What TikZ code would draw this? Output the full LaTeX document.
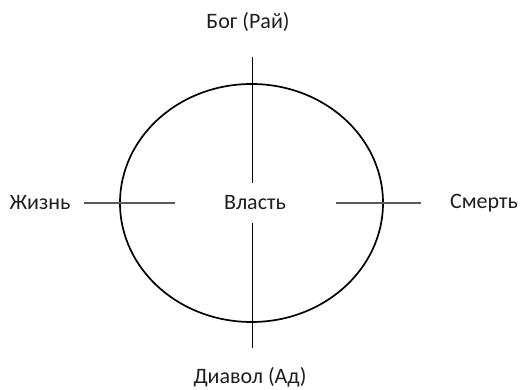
\documentclass[tikz,border=0pt]{standalone}
\usepackage{fontspec}
\setmainfont{Carlito}
\usepackage{tikz}
\usetikzlibrary{positioning}
\definecolor{axisgray}{RGB}{90, 90, 90}
\definecolor{labelink}{RGB}{30, 30, 30}

\begin{document}
\begin{tikzpicture}[x=1pt, y=1pt,
  lbl/.style={inner sep=0pt, text=labelink, font=\fontsize{22}{26}\selectfont},
  vline/.style={draw=black, line width=0.9pt},
  hline/.style={draw=axisgray, line width=1.2pt},
  orbit/.style={draw=black, line width=1.7pt}
]
  \useasboundingbox (0,0) rectangle (521,390);
  \node[lbl] (power) at (255, 187) {Власть};
  \node[lbl] (god)   at (248, 368) {Бог (Рай)};
  \node[lbl] (devil) at (250, 13)  {Диавол (Ад)};
  \node[lbl] (life)  at (40, 187)  {Жизнь};
  \node[lbl] (death) at (484, 187) {Смерть};
  \draw[orbit] (251.5, 187) ellipse (131.5pt and 119pt);
  \coordinate (vtop) at (252, 333);
  \coordinate (vtopin) at (252, 207);
  \coordinate (vbotin) at (252, 167);
  \coordinate (vbot) at (252, 42);
  \coordinate (hleft) at (84, 187);
  \coordinate (hleftin) at (175, 187);
  \coordinate (hrightin) at (336, 187);
  \coordinate (hright) at (421, 187);
  \draw[vline] (vtop) -- (vtopin);
  \draw[vline] (vbotin) -- (vbot);
  \draw[hline] (hleft) -- (hleftin);
  \draw[hline] (hrightin) -- (hright);
\end{tikzpicture}
\end{document}
